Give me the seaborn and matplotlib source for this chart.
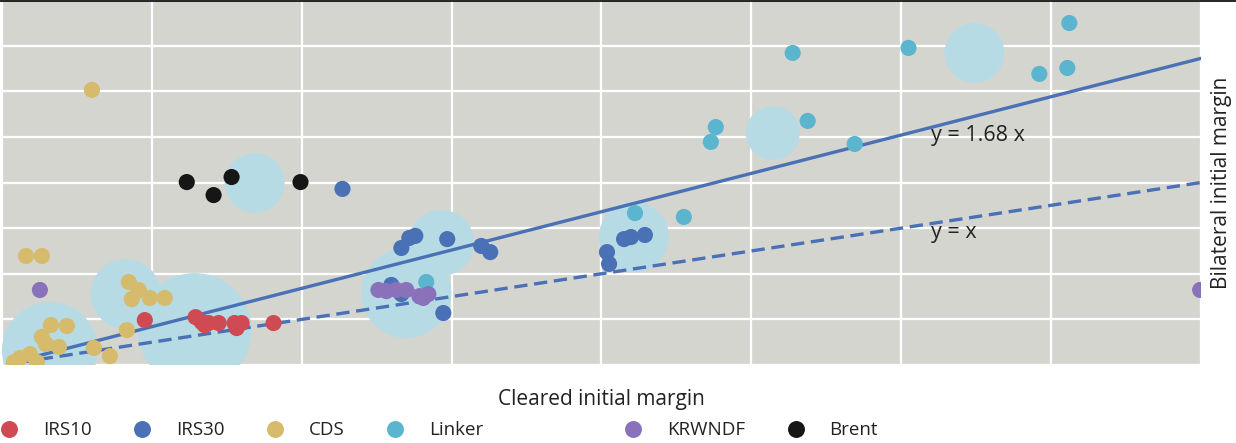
import numpy as np
import pandas as pd
import matplotlib
matplotlib.use("Agg")
import matplotlib.pyplot as plt
import seaborn as sns
from matplotlib.lines import Line2D

# ---------------- data ----------------
categories = ["IRS10", "IRS30", "CDS", "Linker", "KRWNDF", "Brent"]
palette = ["#cf4a52", "#4a70b5", "#d6bb6c", "#5bb5cf", "#8a72bb", "#161616"]

irs10_x = [0.953, 1.292, 1.332, 1.379, 1.446, 1.352, 1.552, 1.599, 1.566, 1.812]
irs10_y = [1.97, 2.10, 1.89, 1.84, 1.84, 1.75, 1.84, 1.84, 1.62, 1.84]

irs30_x = [2.272, 2.665, 2.718, 2.758, 2.971, 3.198, 3.258, 2.598, 2.665, 2.945,
           4.037, 4.051, 4.151, 4.197, 4.290]
irs30_y = [7.72, 5.13, 5.57, 5.66, 5.52, 5.22, 4.95, 3.51, 3.11, 2.28,
           4.95, 4.43, 5.52, 5.61, 5.70]

cds_x = [0.600, 0.160, 0.266, 0.846, 0.913, 0.866, 0.986, 1.086, 0.833, 0.326,
         0.433, 0.266, 0.293, 0.380, 0.613, 0.720, 0.120, 0.187, 0.080, 0.233]
cds_y = [12.06, 4.78, 4.78, 3.64, 3.29, 2.89, 2.94, 2.94, 1.53, 1.75,
         1.71, 1.23, 0.92, 0.79, 0.75, 0.39, 0.31, 0.48, 0.13, 0.13]

linker_x = [2.831, 4.224, 4.550, 4.763, 4.730, 5.276, 5.376, 5.690, 6.049, 6.922, 7.109, 7.122]
linker_y = [3.64, 6.66, 6.49, 10.43, 9.78, 13.68, 10.70, 9.69, 13.90, 12.76, 13.02, 14.99]

krwndf_x = [0.253, 2.512, 2.565, 2.632, 2.698, 2.785, 2.845, 2.811, 7.995]
krwndf_y = [3.29, 3.29, 3.24, 3.29, 3.29, 3.02, 3.11, 2.94, 3.29]

brent_x = [1.233, 1.412, 1.532, 1.992]
brent_y = [8.02, 7.45, 8.24, 8.02]

bubble_x = [6.489, 5.143, 1.686, 2.931, 2.698, 4.217, 0.826, 1.286, 0.320]
bubble_y = [13.68, 10.17, 7.98, 5.35, 3.16, 5.61, 3.11, 1.53, 0.66]
bubble_v = [9.0, 7.3, 9.0, 10.9, 20.3, 12.3, 12.3, 32.5, 23.0]

fit_slope = 1.68
line_x = [0.12, 8.0]

# ---------------- figure ----------------
sns.set_theme(style="darkgrid", rc={
    "axes.facecolor": "#d5d5d0",
    "grid.color": "white",
    "grid.linewidth": 1.6,
})
plt.rcParams["font.family"] = ["Open Sans", "DejaVu Sans"]

fig = plt.figure(figsize=(12.36, 4.43), dpi=100)
ax = fig.add_axes([0.0016, 0.176, 0.9700, 0.824])

frames = []
for name, xs, ys in [("IRS10", irs10_x, irs10_y), ("IRS30", irs30_x, irs30_y),
                     ("CDS", cds_x, cds_y), ("Linker", linker_x, linker_y),
                     ("KRWNDF", krwndf_x, krwndf_y), ("Brent", brent_x, brent_y)]:
    frames.append(pd.DataFrame({"x": xs, "y": ys, "series": name}))
df = pd.concat(frames, ignore_index=True)

k = 207.36
sns.scatterplot(x=bubble_x, y=bubble_y, size=bubble_v,
                sizes=(k * min(bubble_v), k * max(bubble_v)),
                size_norm=(min(bubble_v), max(bubble_v)),
                color="#b6dbe5", linewidth=0, alpha=1.0, legend=False, ax=ax, zorder=2)

lx = np.array(line_x)
sns.lineplot(x=lx, y=fit_slope * lx, color="#4a70b5", linewidth=2.4, ax=ax, zorder=3)
sns.lineplot(x=lx, y=lx, color="#4a70b5", linewidth=2.4, linestyle=(0, (4, 2)), ax=ax, zorder=3)

sns.scatterplot(data=df, x="x", y="y", hue="series", hue_order=categories,
                palette=palette, s=135, linewidth=0, ax=ax, zorder=4)

ax.set_xlim(0, 8)
ax.set_ylim(0, 16)
ax.set_xticks(np.arange(0, 9, 1))
ax.set_yticks(np.arange(0, 17, 2))
ax.tick_params(length=0, labelbottom=False, labelleft=False)
for sp in ax.spines.values():
    sp.set_visible(False)

ax.text(6.20, 10.08, "y = 1.68 x", fontsize=15.5, color="#222222", va="center", ha="left", zorder=5)
ax.text(6.20, 5.83, "y = x", fontsize=15.5, color="#222222", va="center", ha="left", zorder=5)

ax.set_xlabel("Cleared initial margin", fontsize=15, color="#222222", labelpad=17)
ax.yaxis.set_label_position("right")
ax.set_ylabel("Bilateral initial margin", fontsize=15, color="#222222", labelpad=7)

handles, labels = ax.get_legend_handles_labels()
ax.get_legend().remove()
common = dict(loc="center left", bbox_transform=fig.transFigure, ncol=4, frameon=False,
              fontsize=13.5, markerscale=1.05, handlelength=0.8, handletextpad=1.4,
              columnspacing=2.3, borderpad=0, borderaxespad=0, labelcolor="#222222")
fig.legend(handles=handles[:4], labels=labels[:4], bbox_to_anchor=(0.0015, 0.029), **common)
fig.legend(handles=handles[4:], labels=labels[4:], bbox_to_anchor=(0.5063, 0.029), **common)

fig.add_artist(Line2D([0, 1], [0.997, 0.997], color="black", linewidth=1.2))

fig.savefig("out.png", dpi=100)
